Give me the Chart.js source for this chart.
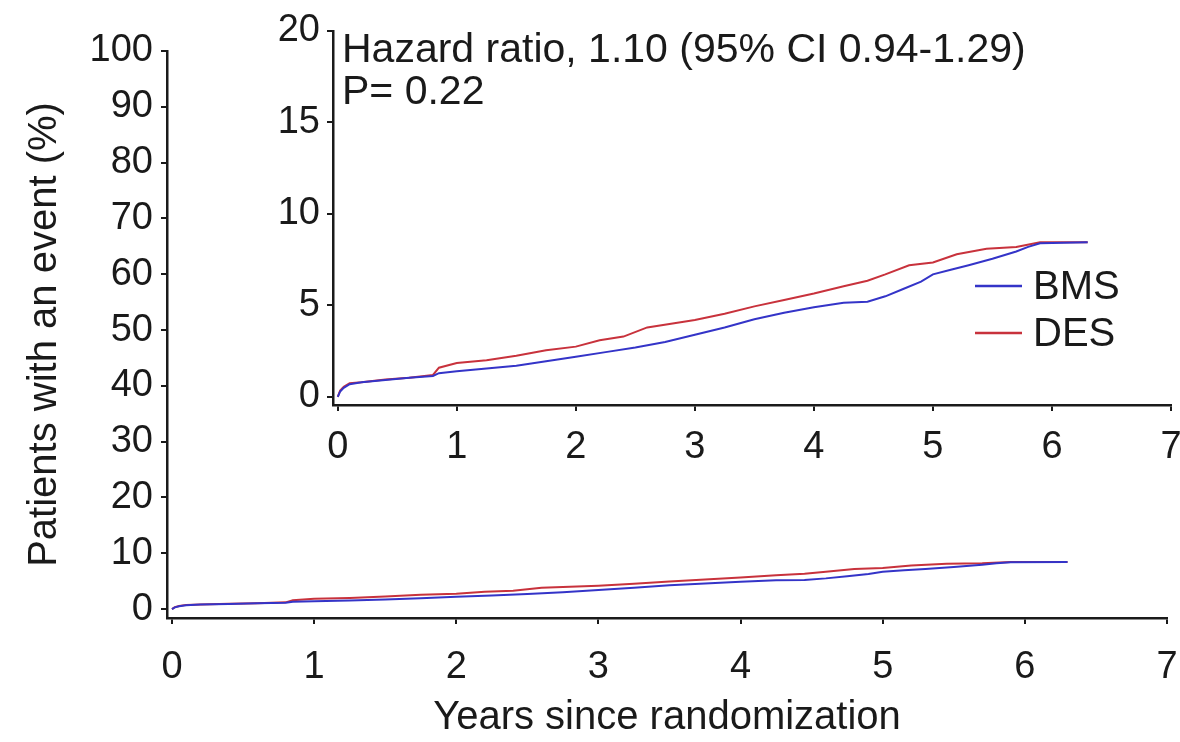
<!DOCTYPE html>
<html>
<head>
<meta charset="utf-8">
<script src="https://cdn.jsdelivr.net/npm/chart.js@4.4.1/dist/chart.umd.min.js"></script>
<style>
  html, body { margin: 0; padding: 0; background: #fff; }
  #contenedor { position: relative; width: 1180px; height: 742px; }
  #contenedor canvas { position: absolute; left: 0; top: 0; }
</style>
</head>
<body>
<div id="contenedor">
  <canvas id="grafica" width="1180" height="742"></canvas>
  <canvas id="recuadro" width="1180" height="742"></canvas>
</div>
<script>
// Datos (Kaplan-Meier, % de pacientes con evento)
const tiemposBMS = [0, 0.02, 0.05, 0.1, 0.2, 0.4, 0.6, 0.8, 0.85, 1.0, 1.25, 1.5, 1.75, 2.0, 2.25, 2.5, 2.75, 3.0, 3.25, 3.5, 3.75, 4.0, 4.25, 4.45, 4.6, 4.75, 4.9, 5.0, 5.15, 5.3, 5.5, 5.7, 5.8, 5.9, 6.3];
const valoresBMS = [0, 0.3, 0.5, 0.7, 0.8, 0.93, 1.05, 1.15, 1.3, 1.4, 1.55, 1.7, 1.95, 2.2, 2.45, 2.7, 3.0, 3.4, 3.8, 4.25, 4.6, 4.9, 5.15, 5.2, 5.5, 5.9, 6.3, 6.7, 6.95, 7.2, 7.55, 7.95, 8.2, 8.4, 8.45];

const tiemposDES = [0, 0.02, 0.05, 0.1, 0.2, 0.4, 0.6, 0.8, 0.85, 1.0, 1.25, 1.5, 1.75, 2.0, 2.2, 2.4, 2.6, 2.8, 3.0, 3.25, 3.5, 3.75, 4.0, 4.25, 4.45, 4.6, 4.8, 5.0, 5.2, 5.45, 5.7, 5.9, 6.3];
const valoresDES = [0, 0.35, 0.55, 0.75, 0.8, 0.95, 1.05, 1.2, 1.6, 1.85, 2.0, 2.25, 2.55, 2.75, 3.1, 3.3, 3.8, 4.0, 4.2, 4.55, 4.95, 5.3, 5.65, 6.05, 6.35, 6.7, 7.2, 7.35, 7.8, 8.1, 8.2, 8.45, 8.45];

// Etiquetas de los ejes
const marcasX = [0, 1, 2, 3, 4, 5, 6, 7];
const marcasY = [0, 10, 20, 30, 40, 50, 60, 70, 80, 90, 100];
const marcasYRecuadro = [0, 5, 10, 15, 20];
const tituloX = "Years since randomization";
const tituloY = "Patients with an event (%)";
const textoRecuadro = ["Hazard ratio, 1.10 (95% CI 0.94-1.29)", "P= 0.22"];

const fuente = "'Liberation Sans', Arial, sans-serif";
const negro = '#1a1a1a';
const azul = '#3434c8';
const rojo = '#c8323c';

function puntos(tiempos, valores) {
  return tiempos.map((t, i) => ({ x: t, y: valores[i] }));
}

function conjuntos() {
  return [
    { label: 'BMS', data: puntos(tiemposBMS, valoresBMS), borderColor: azul, borderWidth: 2, pointRadius: 0, tension: 0, fill: false },
    { label: 'DES', data: puntos(tiemposDES, valoresDES), borderColor: rojo, borderWidth: 2, pointRadius: 0, tension: 0, fill: false }
  ];
}

// tamano fijo del eje; sin el relleno extra que Chart.js pone por las etiquetas
function fijar(s, tam) {
  if (s.isHorizontal()) { s.height = tam; } else { s.width = tam; }
  s.paddingLeft = 0; s.paddingRight = 0; s.paddingTop = 0; s.paddingBottom = 0;
}

function eje(min, max, marcas, separacion, tam, extra) {
  return Object.assign({
    type: 'linear',
    min: min,
    max: max,
    afterBuildTicks: s => { s.ticks = marcas.map(v => ({ value: v })); },
    afterFit: s => fijar(s, tam),
    border: { display: true, color: negro, width: 2.5 },
    grid: { drawOnChartArea: false, drawTicks: true, tickLength: 6, color: negro, lineWidth: 2 },
    ticks: { font: { family: fuente, size: 38 }, color: negro, autoSkip: false, maxRotation: 0, padding: separacion }
  }, extra);
}

// Grafica principal 0-100 %
new Chart(document.querySelector('#grafica'), {
  type: 'line',
  data: { datasets: conjuntos() },
  options: {
    responsive: false,
    animation: false,
    layout: { padding: { left: 0, top: 51, right: 13, bottom: 0 } },
    plugins: { legend: { display: false }, tooltip: { enabled: false } },
    scales: {
      x: eje(-0.035, 7, marcasX, 21, 124, {
        title: { display: true, text: tituloX, color: negro, font: { family: fuente, size: 40 }, padding: { top: 0, bottom: 0 } }
      }),
      y: eje(-1.6, 100, marcasY, 8, 167, {
        title: { display: true, text: tituloY, color: negro, font: { family: fuente, size: 40 }, padding: { top: 21, bottom: 0 } }
      })
    }
  }
});
</script>
<script>
// Texto y leyenda dentro del recuadro
const textoPlugin = {
  id: 'textoRecuadro',
  afterDraw(chart) {
    const ctx = chart.ctx;
    const area = chart.chartArea;
    ctx.save();
    ctx.fillStyle = negro;
    ctx.font = '41px ' + fuente;
    ctx.textBaseline = 'middle';
    ctx.textAlign = 'left';
    ctx.fillText(textoRecuadro[0], area.left + 9, 51);
    ctx.fillText(textoRecuadro[1], area.left + 9, 93);

    // leyenda
    ctx.font = '40px ' + fuente;
    chart.data.datasets.forEach((ds, i) => {
      const y = 286 + i * 47;
      ctx.strokeStyle = ds.borderColor;
      ctx.lineWidth = 2.5;
      ctx.beginPath();
      ctx.moveTo(975, y);
      ctx.lineTo(1022, y);
      ctx.stroke();
      ctx.fillStyle = negro;
      ctx.fillText(ds.label, 1033, y + 2);
    });
    ctx.restore();
  }
};

// Recuadro ampliado 0-20 %
new Chart(document.querySelector('#recuadro'), {
  type: 'line',
  data: { datasets: conjuntos() },
  options: {
    responsive: false,
    animation: false,
    layout: { padding: { left: 250, top: 31, right: 9, bottom: 0 } },
    plugins: { legend: { display: false }, tooltip: { enabled: false } },
    scales: {
      x: eje(-0.04, 7, marcasX, 14, 337),
      y: eje(-0.44, 20, marcasYRecuadro, 7, 83)
    }
  },
  plugins: [textoPlugin]
});
</script>
</body>
</html>
